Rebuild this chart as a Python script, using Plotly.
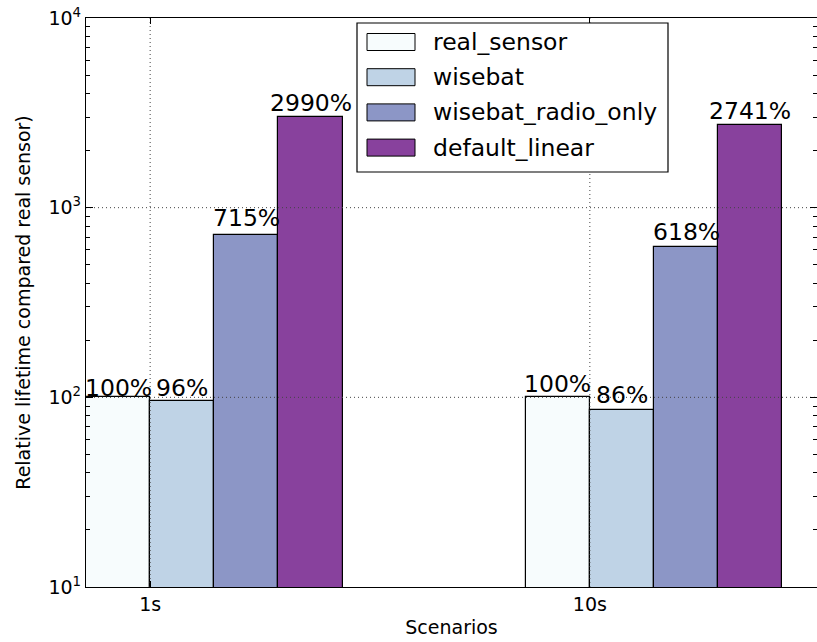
import math
import plotly.graph_objects as go

# ---- data -------------------------------------------------------------
scenarios = ["1s", "10s"]
series_names = ["real_sensor", "wisebat", "wisebat_radio_only", "default_linear"]
real_sensor = [100, 100]
wisebat = [96, 86]
wisebat_radio_only = [715, 618]
default_linear = [2990, 2741]
series_values = [real_sensor, wisebat, wisebat_radio_only, default_linear]

y_tickvals = [10, 100, 1000, 10000]
y_ticktext = ["10<sup>1</sup>", "10<sup>2</sup>", "10<sup>3</sup>", "10<sup>4</sup>"]

# ---- style ------------------------------------------------------------
colors = ["#f7fcfd", "#bfd3e6", "#8c96c6", "#88419d"]
FONT = "DejaVu Sans"
W, H = 817, 642
ML, MR, MT, MB = 86, 0, 18, 55
bar_w = 0.1459
x_max = 1.6625
# extra lift (px) of each value label above its bar
label_lift = [[1, 5, 9, 6], [5, 7, 7, 6]]

group_pos = list(range(len(scenarios)))


def px_x(px):
    return (px - ML) / (W - ML - MR)


def px_y(py):
    return (H - MB - py) / (H - MT - MB)


fig = go.Figure()

# bars
for k, (name, vals, col) in enumerate(zip(series_names, series_values, colors)):
    fig.add_trace(go.Bar(
        x=[g + (k + 0.5) * bar_w for g in group_pos],
        y=vals,
        width=bar_w,
        name=name,
        marker=dict(color=col, line=dict(color="black", width=1.2)),
        showlegend=False,
        hoverinfo="skip",
    ))

# dotted grid drawn over the bars
tick_x = [g + bar_w for g in group_pos]
gx, gy = [], []
for v in y_tickvals[1:-1]:
    gx += [0, x_max, None]
    gy += [v, v, None]
for t in tick_x:
    gx += [t, t, None]
    gy += [y_tickvals[0], y_tickvals[-1], None]
fig.add_trace(go.Scatter(
    x=gx, y=gy, mode="lines",
    line=dict(color="#444444", width=1, dash="1px,3px"),
    showlegend=False, hoverinfo="skip",
))

# value labels
annotations = []
for k, vals in enumerate(series_values):
    for gi, g in enumerate(group_pos):
        v = vals[gi]
        annotations.append(dict(
            x=g + (k + 0.5) * bar_w, y=math.log10(v),
            xref="x", yref="y",
            text=f"{v}%", showarrow=False,
            xanchor="center", yanchor="bottom",
            yshift=label_lift[gi][k] - 8,
            font=dict(family=FONT, size=23.5, color="black"),
        ))

# legend box with wide colour patches
shapes = []
leg_l, leg_r, leg_t, leg_b = 357, 668, 23, 172
shapes.append(dict(
    type="rect", xref="paper", yref="paper", layer="above",
    x0=px_x(leg_l), x1=px_x(leg_r), y0=px_y(leg_b), y1=px_y(leg_t),
    fillcolor="white", line=dict(color="black", width=1.2),
))
for i, (name, col) in enumerate(zip(series_names, colors)):
    cy = 42 + 35.2 * i
    shapes.append(dict(
        type="rect", xref="paper", yref="paper", layer="above",
        x0=px_x(367), x1=px_x(415), y0=px_y(cy + 8.5), y1=px_y(cy - 8.5),
        fillcolor=col, line=dict(color="black", width=1),
    ))
    annotations.append(dict(
        x=px_x(431), y=px_y(cy), xref="paper", yref="paper",
        text=name, showarrow=False, xanchor="left", yanchor="middle",
        font=dict(family=FONT, size=23.5, color="black"),
    ))

fig.update_layout(
    width=W, height=H,
    margin=dict(l=ML, r=MR, t=MT, b=MB, pad=0),
    paper_bgcolor="white", plot_bgcolor="white",
    font=dict(family=FONT, size=19, color="black"),
    barmode="overlay",
    bargap=0,
    shapes=shapes,
    annotations=annotations,
    xaxis=dict(
        range=[0, x_max],
        tickvals=tick_x, ticktext=scenarios,
        ticks="inside", ticklen=6, tickwidth=1, tickcolor="black",
        showline=True, linecolor="black", linewidth=1.3, mirror="allticks",
        showgrid=False, zeroline=False,
        title=dict(text="Scenarios", font=dict(size=19), standoff=6),
        tickfont=dict(size=19),
    ),
    yaxis=dict(
        type="log", range=[1, 4],
        tickvals=y_tickvals, ticktext=y_ticktext,
        ticks="inside", ticklen=7, tickwidth=1, tickcolor="black",
        minor=dict(
            ticks="inside", ticklen=4, tickcolor="black", tickwidth=1,
            tickvals=[m * 10 ** e for e in range(1, 4) for m in range(2, 10)],
            showgrid=False,
        ),
        showline=True, linecolor="black", linewidth=1.3, mirror="allticks",
        showgrid=False, zeroline=False,
        title=dict(text="Relative lifetime compared real sensor)", font=dict(size=19), standoff=12),
        tickfont=dict(size=19),
    ),
)

fig.write_html("out.html")
